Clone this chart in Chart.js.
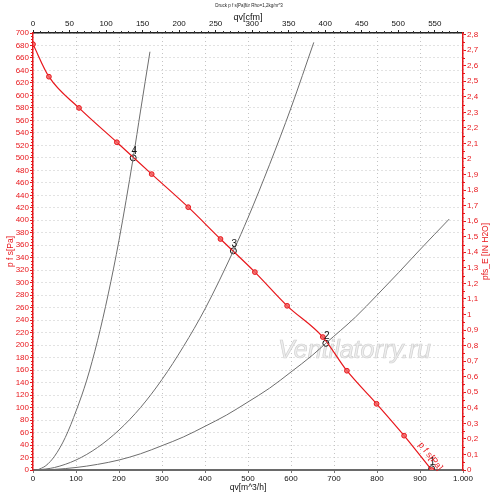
<!DOCTYPE html>
<html>
<head>
<meta charset="utf-8">
<script src="https://cdn.jsdelivr.net/npm/chart.js@4.4.1/dist/chart.umd.min.js"></script>
<style>
  html, body { margin: 0; padding: 0; background: #fff; }
  #wrap { width: 500px; height: 499px; }
</style>
</head>
<body>
<div id="wrap"><canvas id="chart"></canvas></div>
<script>
// fan curve p f s [Pa] over qv [m^3/h]
const fanQ = [0, 37, 107, 195, 276, 361, 436, 516, 591, 674, 730, 799, 863, 927];
const fanP = [682, 630, 580, 525, 474, 421, 370, 317, 263, 213, 159, 106, 55, 0];

// system curves
const sys2Q = [10, 50, 100, 150, 200, 250, 300, 350, 400, 450, 500, 550, 600, 650, 681, 750, 800, 850, 900, 968];
const sys2P = [0, 1, 4, 9, 16, 26, 39, 53, 70, 88, 109, 131, 157, 184, 203, 245, 280, 316, 353, 402];
const sys3Q = [10, 50, 100, 150, 200, 250, 300, 350, 400, 466, 500, 550, 600, 653];
const sys3P = [0, 4, 16, 36, 64, 100, 145, 198, 258, 351, 404, 489, 580, 685];
const sys4Q = [10, 30, 50, 75, 101, 125, 150, 175, 200, 233, 250, 272];
const sys4P = [0, 7, 22, 52, 96, 144, 207, 282, 368, 500, 575, 670];

// operating points
const opQ = [927, 681, 466, 233];
const opP = [2, 203, 351, 500];
const opLabels = ['1', '2', '3', '4'];

const PA_PER_INH2O = 249.09;
const M3H_PER_CFM = 1.699;

const red = '#e8161b';
const font = 'Liberation Sans, Arial, sans-serif';

function pts(xs, ys) {
    return xs.map((x, i) => ({ x: x, y: ys[i] }));
}

function comma(v) {
    return (Math.round(v * 10) / 10).toString().replace('.', ',');
}

const extras = {
    id: 'extras',
    beforeDatasetsDraw(chart) {
        const { ctx, scales: { x, y } } = chart;
        ctx.save();
        ctx.font = 'italic 25px ' + font;
        ctx.fillStyle = 'rgba(236,236,236,0.9)';
        ctx.strokeStyle = 'rgba(205,205,205,0.9)';
        ctx.lineWidth = 0.7;
        ctx.textBaseline = 'alphabetic';
        const wx = x.getPixelForValue(570), wy = y.getPixelForValue(180);
        ctx.fillText('Ventilatorry.ru', wx, wy);
        ctx.strokeText('Ventilatorry.ru', wx, wy);
        ctx.restore();
    },
    afterDraw(chart) {
        const { ctx, scales: { x, y, x2, y2 } } = chart;
        const area = chart.chartArea;
        ctx.save();

        // minor ticks
        ctx.lineWidth = 1;
        ctx.strokeStyle = red;
        for (let v = 0; v <= 700; v += 5) {
            if (v % 20 === 0) continue;
            const py = Math.round(y.getPixelForValue(v)) + 0.5;
            ctx.beginPath(); ctx.moveTo(area.left - 2, py); ctx.lineTo(area.left, py); ctx.stroke();
        }
        for (let i = 0; i <= 56; i++) {
            if (i % 2 === 0) continue;
            const py = Math.round(y2.getPixelForValue(i * 0.05)) + 0.5;
            ctx.beginPath(); ctx.moveTo(area.right, py); ctx.lineTo(area.right + 2, py); ctx.stroke();
        }
        ctx.strokeStyle = '#333';
        for (let v = 0; v <= 580; v += 10) {
            if (v % 50 === 0) continue;
            const px = Math.round(x2.getPixelForValue(v)) + 0.5;
            ctx.beginPath(); ctx.moveTo(px, area.top - 2); ctx.lineTo(px, area.top); ctx.stroke();
        }

        // operating point numbers
        ctx.fillStyle = '#111';
        ctx.font = '10px ' + font;
        ctx.textAlign = 'center';
        ctx.textBaseline = 'middle';
        opQ.forEach((q, i) => {
            ctx.fillText(opLabels[i], x.getPixelForValue(q) + 1, y.getPixelForValue(opP[i]) - 7);
        });

        // curve label along the fan curve
        const n = fanQ.length;
        const ax = x.getPixelForValue(fanQ[n - 2]), ay = y.getPixelForValue(fanP[n - 2]);
        const bx = x.getPixelForValue(fanQ[n - 1]), by = y.getPixelForValue(fanP[n - 1]);
        const ang = Math.atan2(by - ay, bx - ax);
        ctx.translate(ax + (bx - ax) * 0.74, ay + (by - ay) * 0.74);
        ctx.rotate(ang);
        ctx.fillStyle = red;
        ctx.font = '9px ' + font;
        ctx.textBaseline = 'bottom';
        ctx.fillText('p f s[Pa]', 0, -3);
        ctx.setTransform(1, 0, 0, 1, 0, 0);
        ctx.scale(chart.currentDevicePixelRatio, chart.currentDevicePixelRatio);

        // heading and right title
        ctx.fillStyle = '#222';
        ctx.font = '4.5px ' + font;
        ctx.textAlign = 'center';
        ctx.fillText('Druck p f s[Pa]für Rho=1,2kg/m^3', 249, 8);

        ctx.translate(486, (area.top + area.bottom) / 2);
        ctx.rotate(-Math.PI / 2);
        ctx.fillStyle = red;
        ctx.font = '8.5px ' + font;
        ctx.textBaseline = 'middle';
        ctx.fillText('pfs_E [IN H2O]', 0, 0);
        ctx.restore();
    }
};

new Chart(document.getElementById('chart').getContext('2d'), {
    type: 'scatter',
    data: {
        datasets: [{
            label: 'sys2',
            data: pts(sys2Q, sys2P),
            showLine: true,
            borderColor: '#6e6e6e',
            borderWidth: 1,
            pointRadius: 0,
            cubicInterpolationMode: 'monotone'
        }, {
            label: 'sys3',
            data: pts(sys3Q, sys3P),
            showLine: true,
            borderColor: '#6e6e6e',
            borderWidth: 1,
            pointRadius: 0,
            cubicInterpolationMode: 'monotone'
        }, {
            label: 'sys4',
            data: pts(sys4Q, sys4P),
            showLine: true,
            borderColor: '#6e6e6e',
            borderWidth: 1,
            pointRadius: 0,
            cubicInterpolationMode: 'monotone'
        }, {
            label: 'p f s[Pa]',
            data: pts(fanQ, fanP),
            showLine: true,
            borderColor: red,
            borderWidth: 1.2,
            pointRadius: 2.4,
            pointBackgroundColor: 'rgba(240,100,100,0.85)',
            pointBorderColor: red,
            pointBorderWidth: 1,
            cubicInterpolationMode: 'monotone'
        }, {
            label: 'points',
            data: pts(opQ, opP),
            showLine: false,
            pointRadius: 3,
            pointBackgroundColor: '#fff',
            pointBorderColor: '#111',
            pointBorderWidth: 1
        }]
    },
    options: {
        responsive: true,
        maintainAspectRatio: false,
        animation: false,
        layout: { padding: 0 },
        plugins: {
            legend: { display: false },
            tooltip: { enabled: false }
        },
        scales: {
            x: {
                type: 'linear',
                position: 'bottom',
                min: 0,
                max: 1000,
                afterFit: s => { s.height = 29; },
                ticks: {
                    stepSize: 100,
                    padding: 1,
                    color: '#111',
                    font: { family: font, size: 8 },
                    maxRotation: 0,
                    callback: v => v === 1000 ? '1.000' : v
                },
                grid: { color: '#c4c4c4', tickLength: 3, tickColor: '#777' },
                border: { color: '#6a6a6a', width: 2, dash: [1, 3] },
                title: {
                    display: true,
                    text: 'qv[m^3/h]',
                    color: '#111',
                    font: { family: font, size: 8.5 },
                    padding: { top: 0, bottom: 6 }
                }
            },
            x2: {
                type: 'linear',
                position: 'top',
                min: 0,
                max: 1000 / M3H_PER_CFM,
                afterFit: s => { s.height = 33; },
                ticks: {
                    stepSize: 50,
                    includeBounds: false,
                    padding: 1,
                    color: '#111',
                    font: { family: font, size: 8 },
                    maxRotation: 0
                },
                grid: { drawOnChartArea: false, tickLength: 3, tickColor: '#222' },
                border: { color: '#222', width: 1.5 },
                title: {
                    display: true,
                    text: 'qv[cfm]',
                    color: '#111',
                    font: { family: font, size: 9 },
                    padding: { top: 12, bottom: 0 }
                }
            },
            y: {
                type: 'linear',
                position: 'left',
                min: 0,
                max: 700,
                afterFit: s => { s.width = 33; },
                ticks: {
                    stepSize: 20,
                    padding: 1,
                    autoSkip: false,
                    color: red,
                    font: { family: font, size: 8 }
                },
                grid: { color: '#c4c4c4', tickLength: 3, tickColor: red },
                border: { color: red, width: 1.5, dash: [1, 3] },
                title: {
                    display: true,
                    text: 'p f s[Pa]',
                    color: red,
                    font: { family: font, size: 8.5 },
                    padding: { top: 6, bottom: 0 }
                }
            },
            y2: {
                type: 'linear',
                position: 'right',
                min: 0,
                max: 700 / PA_PER_INH2O,
                afterFit: s => { s.width = 37; },
                ticks: {
                    stepSize: 0.1,
                    includeBounds: false,
                    padding: 1,
                    autoSkip: false,
                    color: red,
                    font: { family: font, size: 8 },
                    callback: v => comma(v)
                },
                grid: { drawOnChartArea: false, tickLength: 3, tickColor: red },
                border: { color: red, width: 1.5 }
            }
        }
    },
    plugins: [extras]
});
</script>
</body>
</html>
